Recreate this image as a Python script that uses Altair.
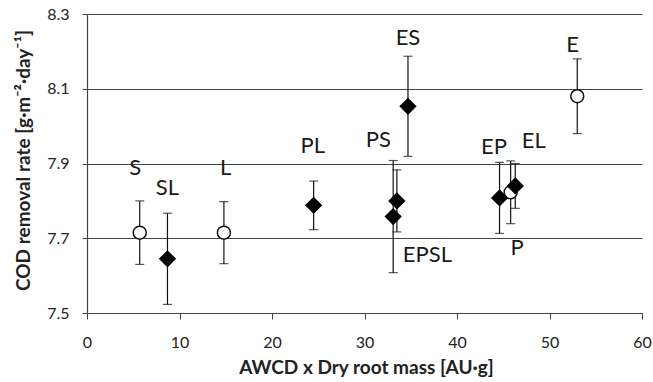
import altair as alt
import pandas as pd

names = ["S", "SL", "L", "PL", "PS", "EPSL", "ES", "EP", "P", "EL", "E"]
x_vals = [5.7, 8.7, 14.8, 24.5, 33.1, 33.5, 34.7, 44.6, 45.8, 46.3, 53.0]
y_vals = [7.715, 7.645, 7.715, 7.788, 7.758, 7.800, 8.053, 7.808, 7.823, 7.840, 8.080]
err_vals = [0.085, 0.122, 0.083, 0.065, 0.150, 0.083, 0.134, 0.095, 0.084, 0.060, 0.100]
marker = ["open", "filled", "open", "filled", "filled", "filled", "filled", "filled", "open", "filled", "open"]
label_x = [5.2, 8.7, 15.0, 24.4, 31.5, 36.8, 34.7, 44.0, 46.5, 48.3, 52.5]
label_y = [7.887, 7.834, 7.887, 7.946, 7.964, 7.656, 8.236, 7.944, 7.674, 7.959, 8.218]

df = pd.DataFrame({
    "name": names, "x": x_vals, "y": y_vals, "err": err_vals,
    "marker": marker, "lx": label_x, "ly": label_y,
})
df["lo"] = df["y"] - df["err"]
df["hi"] = df["y"] + df["err"]

FONT = "Lato"
xs = alt.Scale(domain=[0, 60], nice=False, zero=False)
ys = alt.Scale(domain=[7.5, 8.3], nice=False, zero=False)

base = alt.Chart(df)

x_axis = alt.Axis(
    values=[0, 10, 20, 30, 40, 50, 60], grid=False, format="d",
    title="AWCD x Dry root mass [AU·g]", titleFont=FONT, titleFontSize=19,
    titleFontWeight="bold", titleColor="#222", titleX=279, titleY=60,
    titleAnchor="middle", titleAlign="center", titleBaseline="alphabetic",
    labelFont=FONT, labelFontSize=16, labelColor="#222", labelPadding=15,
    tickSize=6, tickColor="#444", domainColor="#444", domainWidth=1.2,
    labelFlush=False,
)
y_axis = alt.Axis(
    values=[7.5, 7.7, 7.9, 8.1, 8.3], format=".1f", grid=True,
    gridColor="#444", gridWidth=1.2,
    title="COD removal rate [g·m⁻²·day⁻¹]", titleFont=FONT, titleFontSize=19,
    titleFontWeight="bold", titleColor="#222", titleX=-64, titleY=146,
    titleAngle=270, titleAlign="center", titleBaseline="middle",
    labelFont=FONT, labelFontSize=16, labelColor="#222", labelPadding=13,
    tickSize=5, tickColor="#444", domainColor="#444", domainWidth=1.2,
    labelFlush=False,
)

rules = base.mark_rule(color="#111", strokeWidth=1.2).encode(
    x=alt.X("x:Q", scale=xs, axis=x_axis),
    y=alt.Y("lo:Q", scale=ys, axis=y_axis),
    y2="hi:Q",
)
caps_hi = base.mark_tick(orient="horizontal", size=9, thickness=1.2, color="#111").encode(
    x=alt.X("x:Q", scale=xs), y=alt.Y("hi:Q", scale=ys))
caps_lo = base.mark_tick(orient="horizontal", size=9, thickness=1.2, color="#111").encode(
    x=alt.X("x:Q", scale=xs), y=alt.Y("lo:Q", scale=ys))

circles = base.transform_filter(alt.datum.marker == "open").mark_point(
    shape="circle", size=169, filled=True, fill="white", stroke="#111",
    strokeWidth=1.5, opacity=1,
).encode(x=alt.X("x:Q", scale=xs), y=alt.Y("y:Q", scale=ys))

diamonds = base.transform_filter(alt.datum.marker == "filled").mark_point(
    shape="diamond", size=300, filled=True, color="#000", opacity=1,
).encode(x=alt.X("x:Q", scale=xs), y=alt.Y("y:Q", scale=ys))

labels = base.mark_text(
    font=FONT, fontSize=22, color="#1a1a1a", align="center", baseline="middle",
).encode(
    x=alt.X("lx:Q", scale=xs), y=alt.Y("ly:Q", scale=ys), text="name:N",
)

chart = alt.layer(rules, caps_hi, caps_lo, circles, diamonds, labels).properties(
    width=555, height=299,
    autosize=alt.AutoSizeParams(type="none"),
    padding={"left": 87, "top": 14, "right": 11, "bottom": 69},
    background="white",
).configure_view(stroke=None)

chart.save("out.html", embed_options={"renderer": "svg", "actions": False})
